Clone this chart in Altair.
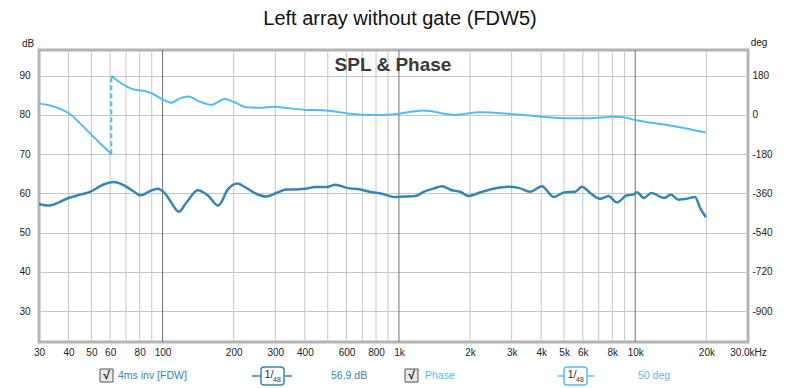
import altair as alt
import pandas as pd

# ---------------- data ----------------
TITLE = "Left array without gate (FDW5)"
SUBTITLE = "SPL & Phase"

spl_freq = [30, 33, 40, 44.5, 49, 56, 62, 69, 75, 81, 88, 95, 102, 109, 117, 126, 141, 156, 172, 189,
            207, 226, 249, 275, 303, 334, 358, 401, 443, 496, 538, 603, 686, 756, 848, 949, 1046, 1172,
            1271, 1401, 1520, 1675, 1816, 1970, 2171, 2434, 2908, 3208, 3595, 4029, 4509, 5054, 5571,
            5946, 6447, 7104, 7704, 8357, 9213, 9830, 10150, 10900, 11680, 13290, 14140, 15230, 16520,
            17910, 18810, 19900]
spl_db = [57.3, 56.9, 58.8, 59.6, 60.3, 62.2, 62.9, 62.0, 60.6, 59.5, 60.5, 61.2, 60.1, 57.6, 55.3,
          57.6, 60.8, 59.4, 56.9, 61.0, 62.5, 61.4, 59.9, 59.2, 60.1, 61.0, 61.0, 61.2, 61.6, 61.6,
          62.2, 61.4, 61.0, 60.4, 59.9, 59.1, 59.2, 59.3, 60.4, 61.2, 61.8, 60.8, 60.4, 59.3, 60.1,
          61.0, 61.7, 61.4, 60.4, 61.8, 59.1, 60.3, 60.4, 61.7, 60.1, 58.6, 59.3, 57.7, 59.5, 59.7,
          60.3, 58.8, 60.1, 58.8, 59.7, 58.4, 58.6, 59.1, 56.3, 53.9]

# phase before the wrap (30 Hz .. wrap point)
phase_freq_a = [30, 33.6, 36.9, 40.8, 44.9, 49.4, 54.6, 60.7]
phase_deg_a = [53, 42, 27, 2, -40, -86, -132, -180]
# phase after the wrap
phase_freq_b = [60.7, 63.7, 70.2, 77.4, 84, 91, 100.6, 109, 118.3, 128.4, 143.6, 161, 183.2, 201.8,
                226, 257, 298, 334, 395, 496, 603, 807, 981, 1271, 1729, 2206, 2956, 3595, 3963,
                4971, 6447, 8088, 8915, 9990, 14040, 19880]
phase_deg_b = [180, 161, 131, 114, 110, 96, 70, 56, 76, 84, 61, 46, 73, 58, 35, 33, 38, 32, 24, 20,
               7, 0, 4.6, 20, 0, 12, 4.6, -3, -8, -15, -15, -9, -11, -23, -49, -81]

x_label_values = [30, 40, 50, 60, 80, 100, 200, 300, 400, 600, 800, 1000, 2000, 3000, 4000, 5000,
                  6000, 8000, 10000, 20000, 30000]
grid_minor = [40, 50, 60, 70, 80, 90, 200, 300, 400, 500, 600, 700, 800, 900, 2000, 3000, 4000,
              5000, 6000, 7000, 8000, 9000, 20000]
grid_major = [100, 1000, 10000]
db_ticks = [30, 40, 50, 60, 70, 80, 90]
deg_ticks = [180, 0, -180, -360, -540, -720, -900]

legend_texts = ["4ms inv [FDW]", "56.9 dB", "Phase", "50 deg"]

# ---------------- layout ----------------
PAD_L, PAD_T, PAD_R, PAD_B = 31, 42, 44, 46
W, H = 709, 292
FONT = "Liberation Sans"
SPL_COLOR = "#3587b2"
PH_COLOR = "#55bcee"

DB_DOMAIN = [22.1, 96.55]
DEG_DOMAIN = [(d - 80) * 18 for d in DB_DOMAIN]


def px(x):
    return x - PAD_L - 8


def py(y):
    return y - PAD_T - 8


xscale = alt.Scale(type="log", domain=[30, 30000], nice=False)
yscale_db = alt.Scale(domain=DB_DOMAIN, nice=False, zero=False)
yscale_deg = alt.Scale(domain=DEG_DOMAIN, nice=False, zero=False)

spl_df = pd.DataFrame({"f": spl_freq, "v": spl_db})
pa_df = pd.DataFrame({"f": phase_freq_a, "v": phase_deg_a})
pb_df = pd.DataFrame({"f": phase_freq_b, "v": phase_deg_b})
wrap_df = pd.DataFrame({"f": [phase_freq_a[-1], phase_freq_b[0]],
                        "v": [phase_deg_a[-1], phase_deg_b[0]]})

x_axis = alt.Axis(values=x_label_values, grid=False, domain=False, ticks=False, title=None,
                  labelExpr="datum.value >= 30000 ? '30.0kHz' : (datum.value >= 1000 ? (datum.value/1000) + 'k' : '' + datum.value)",
                  labelOverlap=False, labelPadding=5, labelFontSize=10, labelFont=FONT,
                  labelColor="#222222", labelFlush=False)

db_axis = alt.Axis(values=db_ticks, grid=True, gridColor="#c6c6c6", domain=False,
                   ticks=False, title=None, labelPadding=9, labelFontSize=10,
                   labelFont=FONT, labelColor="#222222", labelExpr="'' + datum.value")

deg_axis = alt.Axis(values=deg_ticks, orient="right", grid=False, domain=False, ticks=False,
                    title=None, labelPadding=4, labelFontSize=10, labelFont=FONT,
                    labelColor="#222222", labelExpr="'' + datum.value")

X = alt.X("f:Q", scale=xscale, axis=x_axis)

grid_minor_layer = alt.Chart(pd.DataFrame({"f": grid_minor})).mark_rule(
    color="#c6c6c6", strokeWidth=1).encode(x=X)
grid_major_layer = alt.Chart(pd.DataFrame({"f": grid_major})).mark_rule(
    color="#6e6e6e", strokeWidth=1).encode(x=X)

spl_layer = alt.Chart(spl_df).mark_line(
    color=SPL_COLOR, strokeWidth=2.5, interpolate="monotone").encode(
    x=X, y=alt.Y("v:Q", scale=yscale_db, axis=db_axis))

Ydeg = alt.Y("v:Q", scale=yscale_deg, axis=deg_axis)
pa_layer = alt.Chart(pa_df).mark_line(
    color=PH_COLOR, strokeWidth=2, interpolate="monotone").encode(x=X, y=Ydeg)
pb_layer = alt.Chart(pb_df).mark_line(
    color=PH_COLOR, strokeWidth=2, interpolate="monotone").encode(x=X, y=Ydeg)
wrap_layer = alt.Chart(wrap_df).mark_line(
    color=PH_COLOR, strokeWidth=2, strokeDash=[5, 3]).encode(x=X, y=Ydeg)

phase_group = alt.layer(pa_layer, pb_layer, wrap_layer)


def text_layer(t, x, y, size, color, weight="normal", align="left"):
    return alt.Chart(pd.DataFrame({"t": [t]})).mark_text(
        align=align, baseline="middle", fontSize=size, color=color, fontWeight=weight,
        font=FONT).encode(x=alt.value(px(x)), y=alt.value(py(y)), text="t:N")


def rect_layer(x1, x2, y1, y2, fill, stroke, radius=0, sw=1):
    return alt.Chart(pd.DataFrame({"a": [0]})).mark_rect(
        fill=fill, stroke=stroke, strokeWidth=sw, cornerRadius=radius).encode(
        x=alt.value(px(x1)), x2=alt.value(px(x2)), y=alt.value(py(y1)), y2=alt.value(py(y2)))


def hline(x1, x2, y, color, sw=1.5):
    return alt.Chart(pd.DataFrame({"a": [0]})).mark_rule(color=color, strokeWidth=sw).encode(
        x=alt.value(px(x1)), x2=alt.value(px(x2)), y=alt.value(py(y)))


LEG_Y = 376
annotations = [
    text_layer(TITLE, 400, 18.5, 20, "#111111", align="center"),
    text_layer(SUBTITLE, 393, 65, 19, "#3a3a3a", weight="bold", align="center"),
    text_layer("dB", 28, 44, 10, "#222222", align="center"),
    text_layer("deg", 759, 43, 10, "#222222", align="center"),
    # legend item 1
    rect_layer(100, 113, 369, 382, "#e8e8e8", "#555555"),
    text_layer("\u221a", 106.5, 375, 12, "#111111", weight="bold", align="center"),
    text_layer(legend_texts[0], 118, LEG_Y, 10.5, SPL_COLOR),
    hline(252, 261, LEG_Y, SPL_COLOR),
    hline(284, 292, LEG_Y, SPL_COLOR),
    rect_layer(261, 284, 367, 385, "#ffffff", SPL_COLOR, radius=3, sw=1.5),
    text_layer("1/", 269, 375, 11, "#333333", align="center"),
    text_layer("48", 277, 380, 7, "#333333", align="center"),
    text_layer(legend_texts[1], 331, LEG_Y, 10.5, SPL_COLOR),
    # legend item 2
    rect_layer(405, 418, 369, 382, "#e8e8e8", "#555555"),
    text_layer("\u221a", 411.5, 375, 12, "#111111", weight="bold", align="center"),
    text_layer(legend_texts[2], 425, LEG_Y, 10.5, PH_COLOR),
    hline(558, 564, LEG_Y, PH_COLOR),
    hline(587, 594, LEG_Y, PH_COLOR),
    rect_layer(564, 587, 367, 385, "#ffffff", PH_COLOR, radius=3, sw=1.5),
    text_layer("1/", 572, 375, 11, "#333333", align="center"),
    text_layer("48", 580, 380, 7, "#333333", align="center"),
    text_layer(legend_texts[3], 638, LEG_Y, 10.5, PH_COLOR),
]

chart = alt.layer(
    grid_minor_layer, grid_major_layer, spl_layer, phase_group, *annotations
).resolve_scale(y="independent").properties(
    width=W, height=H,
    padding={"left": PAD_L, "top": PAD_T, "right": PAD_R, "bottom": PAD_B},
    autosize=alt.AutoSizeParams(type="none"),
    background="white",
).configure_view(stroke="#b4b4b4", strokeWidth=3)

chart.save("out.html", embed_options={"renderer": "svg", "actions": False})
